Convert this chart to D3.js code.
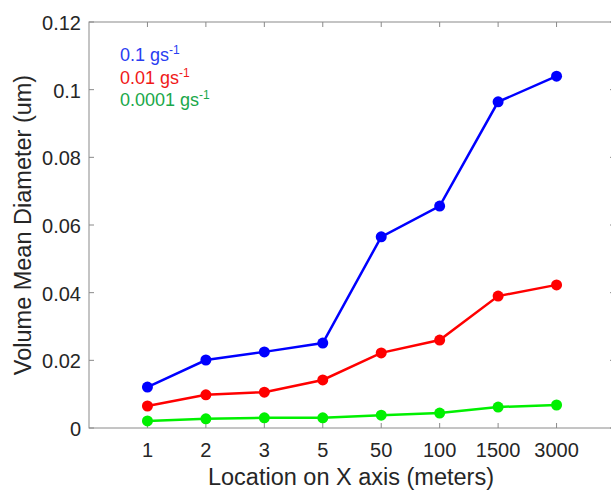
<!DOCTYPE html>
<html>
<head>
<meta charset="utf-8">
<script src="https://cdn.jsdelivr.net/npm/d3@7"></script>
<style>
  body { margin: 0; background: #fff; }
  svg { font-family: 'Liberation Sans', Arial, sans-serif; }
</style>
</head>
<body>
<div id="chart"></div>
<script>
const locations = ['1', '2', '3', '5', '50', '100', '1500', '3000'];
const rate01 = [0.0121, 0.0201, 0.0225, 0.0251, 0.0565, 0.0656, 0.0964, 0.1040];
const rate001 = [0.0065, 0.0098, 0.0106, 0.0142, 0.0222, 0.0260, 0.0390, 0.0423];
const rate00001 = [0.0021, 0.0027, 0.0030, 0.0030, 0.0038, 0.0044, 0.0062, 0.0068];
const yTicks = [0, 0.02, 0.04, 0.06, 0.08, 0.1, 0.12];

const series = [
  { label: '0.1 gs', values: rate01, color: '#0000ff', text: '#2a3df2' },
  { label: '0.01 gs', values: rate001, color: '#ff0000', text: '#f01818' },
  { label: '0.0001 gs', values: rate00001, color: '#00f000', text: '#1aa84a' }
];

const width = 611;
const height = 491;
const plotLeft = 89, plotRight = 615, plotTop = 22, plotBottom = 428;
const axisColor = '#8a8a8a';
const textColor = '#262626';
const tickLen = 5;

const svg = d3.select('#chart')
  .append('svg')
  .attr('width', width)
  .attr('height', height);

// Category index scale: index 0 and 9 are the box edges.
const x = d3.scaleLinear().domain([0, 9]).range([plotLeft, plotRight]);
const y = d3.scaleLinear().domain([0, 0.12]).range([plotBottom, plotTop]);

// Box.
svg.append('rect')
  .attr('x', plotLeft).attr('y', plotTop)
  .attr('width', plotRight - plotLeft).attr('height', plotBottom - plotTop)
  .attr('fill', 'none')
  .attr('stroke', axisColor)
  .attr('stroke-width', 1);

// X ticks (bottom and top, pointing inward).
const xIdx = locations.map((d, i) => i + 1);
svg.append('g')
  .selectAll('line')
  .data(xIdx)
  .join('line')
  .attr('x1', d => x(d)).attr('x2', d => x(d))
  .attr('y1', plotBottom).attr('y2', plotBottom - tickLen)
  .attr('stroke', axisColor);
svg.append('g')
  .selectAll('line')
  .data(xIdx)
  .join('line')
  .attr('x1', d => x(d)).attr('x2', d => x(d))
  .attr('y1', plotTop).attr('y2', plotTop + tickLen)
  .attr('stroke', axisColor);

// Y ticks (left and right).
svg.append('g')
  .selectAll('line')
  .data(yTicks)
  .join('line')
  .attr('x1', plotLeft).attr('x2', plotLeft + tickLen)
  .attr('y1', d => y(d)).attr('y2', d => y(d))
  .attr('stroke', axisColor);
svg.append('g')
  .selectAll('line')
  .data(yTicks)
  .join('line')
  .attr('x1', plotRight).attr('x2', plotRight - tickLen)
  .attr('y1', d => y(d)).attr('y2', d => y(d))
  .attr('stroke', axisColor);

// Tick labels.
svg.append('g')
  .selectAll('text')
  .data(locations)
  .join('text')
  .attr('x', (d, i) => x(i + 1))
  .attr('y', plotBottom + 29)
  .attr('text-anchor', 'middle')
  .attr('font-size', 20)
  .attr('fill', textColor)
  .text(d => d);

svg.append('g')
  .selectAll('text')
  .data(yTicks)
  .join('text')
  .attr('x', plotLeft - 8)
  .attr('y', d => y(d) + 8)
  .attr('text-anchor', 'end')
  .attr('font-size', 20)
  .attr('fill', textColor)
  .text(d => d3.format('~g')(d));

// Axis titles.
svg.append('text')
  .attr('x', 351)
  .attr('y', 485)
  .attr('text-anchor', 'middle')
  .attr('font-size', 23.5)
  .attr('fill', textColor)
  .text('Location on X axis (meters)');

svg.append('text')
  .attr('transform', `translate(31, ${(plotTop + plotBottom) / 2}) rotate(-90)`)
  .attr('text-anchor', 'middle')
  .attr('font-size', 23.5)
  .attr('fill', textColor)
  .text('Volume Mean Diameter (um)');

// Lines and markers.
const line = d3.line()
  .x((d, i) => x(i + 1))
  .y(d => y(d));

series.forEach(s => {
  svg.append('path')
    .datum(s.values)
    .attr('d', line)
    .attr('fill', 'none')
    .attr('stroke', s.color)
    .attr('stroke-width', 2.5);

  svg.append('g')
    .selectAll('circle')
    .data(s.values)
    .join('circle')
    .attr('cx', (d, i) => x(i + 1))
    .attr('cy', d => y(d))
    .attr('r', 5.5)
    .attr('fill', s.color);
});

// Legend text with superscript.
const legend = svg.append('g')
  .selectAll('text')
  .data(series)
  .join('text')
  .attr('x', 120)
  .attr('y', (d, i) => 61 + i * 22.5)
  .attr('font-size', 18)
  .attr('fill', d => d.text);
legend.append('tspan').text(d => d.label);
legend.append('tspan')
  .attr('dy', -7)
  .attr('font-size', 12)
  .text('-1');
</script>
</body>
</html>
